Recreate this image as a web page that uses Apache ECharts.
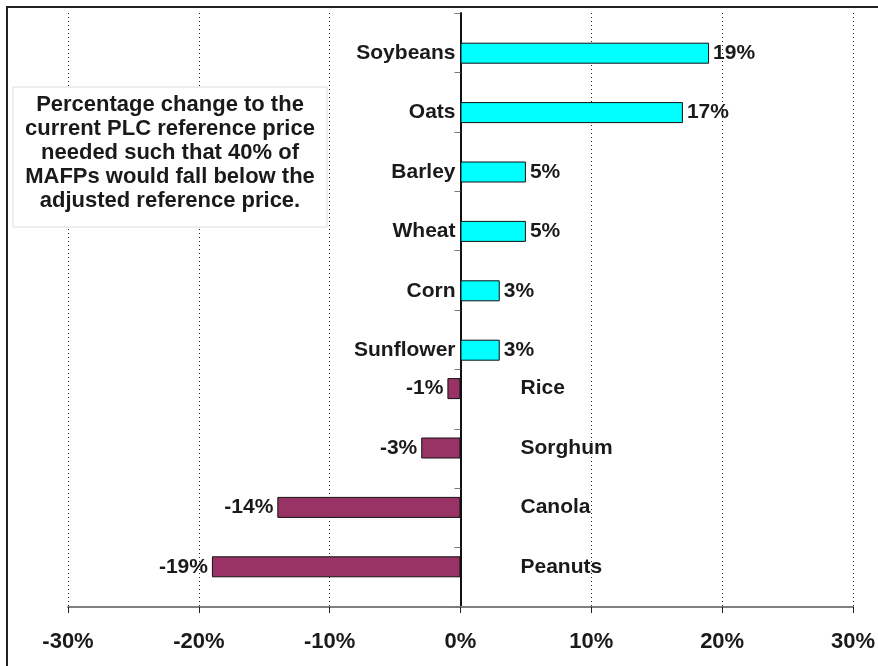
<!DOCTYPE html>
<html>
<head>
<meta charset="utf-8">
<script src="https://cdn.jsdelivr.net/npm/echarts@6/dist/echarts.min.js"></script>
<style>
  html, body { margin: 0; padding: 0; background: #fff; }
  #chart { width: 878px; height: 666px; }
</style>
</head>
<body>
<div id="chart"></div>
<script>
  // categories top to bottom
  const crops = ['Soybeans', 'Oats', 'Barley', 'Wheat', 'Corn', 'Sunflower', 'Rice', 'Sorghum', 'Canola', 'Peanuts'];
  // percentage change, split by sign (null = no bar)
  const upValues = [19, 17, 5, 5, 3, 3, null, null, null, null];
  const downValues = [null, null, null, null, null, null, -1, -3, -14, -19];
  const axisMin = -30, axisMax = 30, axisStep = 10;
  const note = 'Percentage change to the\ncurrent PLC reference price\nneeded such that 40% of\nMAFPs would fall below the\nadjusted reference price.';

  const FONT = 'Arial, "Liberation Sans", sans-serif';
  const INK = '#1a1a1a';
  const lbl = { color: INK, fontFamily: FONT, fontWeight: 'bold', fontSize: 21 };

  const dash = v => (v == null ? '-' : v);
  const nameAnchor = vals => vals.map(v => (v == null ? '-' : 0));

  const chart = echarts.init(document.getElementById('chart'), null, { renderer: 'canvas' });
  chart.setOption({
    animation: false,
    backgroundColor: '#fff',
    grid: { left: 68, right: 25, top: 13, bottom: 59 },
    xAxis: {
      type: 'value', min: axisMin, max: axisMax, interval: axisStep,
      axisLine: { show: true, onZero: false, lineStyle: { color: '#808080', width: 2 } },
      axisTick: { show: true, length: 6, lineStyle: { color: '#222', width: 1 } },
      axisLabel: { color: INK, fontFamily: FONT, fontWeight: 'bold', fontSize: 22, margin: 24, formatter: '{value}%' },
      splitLine: { show: true, lineStyle: { color: '#222', type: [1, 3], width: 1 } },
    },
    yAxis: {
      type: 'category', data: crops, inverse: true,
      axisLine: { show: true, onZero: true, lineStyle: { color: '#111', width: 2 } },
      axisTick: { show: true, length: 6, lineStyle: { color: '#777', width: 1 } },
      axisLabel: { show: false },
      splitLine: { show: false },
    },
    series: [
      {
        name: 'downName', type: 'bar', stack: 'down', barWidth: 21, barGap: '0%',
        data: nameAnchor(downValues), itemStyle: { color: 'transparent' },
        label: { show: true, position: 'right', distance: 60, align: 'left', formatter: p => p.name, ...lbl },
      },
      {
        name: 'down', type: 'bar', stack: 'down', barWidth: 21, barGap: '0%',
        data: downValues.map(dash),
        itemStyle: { color: '#993366', borderColor: '#111', borderWidth: 1 },
        label: { show: true, position: 'left', distance: 4, formatter: p => p.value + '%', ...lbl },
      },
      {
        name: 'upName', type: 'bar', stack: 'up', barWidth: 21, barGap: '0%',
        data: nameAnchor(upValues), itemStyle: { color: 'transparent' },
        label: { show: true, position: 'left', distance: 5, formatter: p => p.name, ...lbl },
      },
      {
        name: 'up', type: 'bar', stack: 'up', barWidth: 21, barGap: '0%',
        data: upValues.map(dash),
        itemStyle: { color: '#00FFFF', borderColor: '#111', borderWidth: 1 },
        label: { show: true, position: 'right', distance: 4, formatter: p => p.value + '%', ...lbl },
      },
    ],
    graphic: [
      { type: 'rect', silent: true, z: 100, shape: { x: 7, y: 7, width: 1000, height: 1000 },
        style: { fill: 'none', stroke: '#222', lineWidth: 2 } },
      { type: 'rect', silent: true, z: 100, shape: { x: 13, y: 87, width: 314, height: 140 },
        style: { fill: '#fff', stroke: '#dcdcdc', lineWidth: 1 } },
      { type: 'text', silent: true, z: 101, x: 170, y: 153,
        style: { text: note, fill: INK, font: 'bold 22px ' + FONT, align: 'center', verticalAlign: 'middle', lineHeight: 24 } },
    ],
  });
</script>
</body>
</html>
